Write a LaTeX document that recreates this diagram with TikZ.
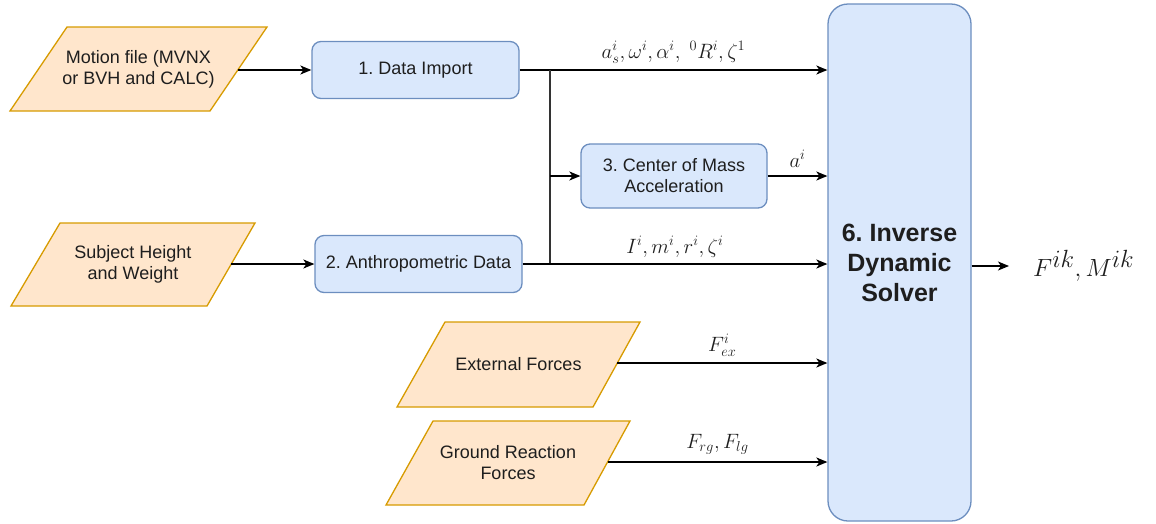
\documentclass[tikz,border=0pt]{standalone}
\usepackage{fontspec}
\setmainfont{Liberation Sans}
\usetikzlibrary{arrows.meta}
\definecolor{ofill}{HTML}{FFE6CC}
\definecolor{odraw}{HTML}{D79B00}
\definecolor{bfill}{HTML}{DAE8FC}
\definecolor{bdraw}{HTML}{6C8EBF}
\definecolor{txt}{HTML}{1E1E1E}
\frenchspacing
\tikzset{
  parashape/.style={draw=odraw, fill=ofill, line width=1.3pt, line join=miter},
  paratext/.style={text=txt, align=center, font=\fontsize{18}{21}\selectfont, inner sep=2pt},
  procbox/.style={rectangle, rounded corners=9pt, draw=bdraw, fill=bfill, line width=1.3pt,
    text=txt, align=center, font=\fontsize{18}{21}\selectfont, inner sep=2pt},
  arr/.style={draw=black, line width=1.4pt, -{Stealth[length=11pt,width=9pt,inset=3pt]}},
  ln/.style={draw=black!80, line width=1.4pt},
  mlab/.style={font=\fontsize{21}{24}\selectfont, text=txt, inner sep=2pt}
}
\begin{document}
\begin{tikzpicture}[x=1pt,y=-1pt]
\useasboundingbox (0,0) rectangle (1156,523);
% inputs (parallelograms)
\draw[parashape] (10,111) -- (210,111) -- (267,27) -- (67,27) -- cycle;
\node[paratext] (motion) at (138.5,69) {Motion file (MVNX\\or BVH and CALC)};
\coordinate (motion-out) at (237.8,70);
\draw[parashape] (11,306) -- (207,306) -- (255,223) -- (60,223) -- cycle;
\node[paratext] (subject) at (133,264.5) {Subject Height\\and Weight};
\coordinate (subject-out) at (231.3,264);
\draw[parashape] (397,407) -- (593,407) -- (640,322) -- (445,322) -- cycle;
\node[paratext] (ext) at (518.5,364.5) {External Forces};
\coordinate (ext-out) at (617.3,363);
\draw[parashape] (386,505) -- (584,505) -- (630,421) -- (433,421) -- cycle;
\node[paratext] (ground) at (508,463) {Ground Reaction\\Forces};
\coordinate (ground-out) at (607.5,462);
% processes
\node[procbox, minimum width=207, minimum height=57] (import) at (415.5,70) {1. Data Import};
\node[procbox, minimum width=207, minimum height=57] (anthro) at (418.5,264) {2. Anthropometric Data};
\node[procbox, minimum width=186, minimum height=64] (com) at (674,176) {3. Center of Mass\\Acceleration};
\node[procbox, rounded corners=20pt, minimum width=143, minimum height=517,
  font=\fontsize{25}{30}\selectfont\bfseries] (solver) at (899.5,262.5) {6. Inverse\\Dynamic\\Solver};
% junction
\coordinate (j1) at (550,70);
\coordinate (j2) at (550,264);
% connectors
\draw[arr] (motion-out) -- (import);
\draw[arr] (subject-out) -- (anthro);
\draw[arr] (import.east) -- node[mlab, above=4pt] {$a_s^i,\omega^i,\alpha^i,\ {}^0R^i,\zeta^1$} (import.east -| solver.west);
\draw[ln] (j1) -- (j2);
\draw[arr] (j1 |- com) -- (com.west);
\draw[arr] (com.east) -- node[mlab, above=6pt] {$a^i$} (com.east -| solver.west);
\draw[arr] (anthro.east) -- node[mlab, above=4pt] {$I^i,m^i,r^i,\zeta^i$} (anthro.east -| solver.west);
\draw[arr] (ext-out) -- node[mlab, above=4pt] {$F_{ex}^i$} (ext-out -| solver.west);
\draw[arr] (ground-out) -- node[mlab, above=5pt] {$F_{rg},F_{lg}$} (ground-out -| solver.west);
\node[font=\fontsize{36}{40}\selectfont, text=txt, inner sep=0pt, anchor=west] (out) at (1033,266) {$F^{ik},M^{ik}$};
\draw[arr, line width=1.2pt] (solver.east |- out) -- ([xshift=-24pt]out.west);
\end{tikzpicture}
\end{document}
